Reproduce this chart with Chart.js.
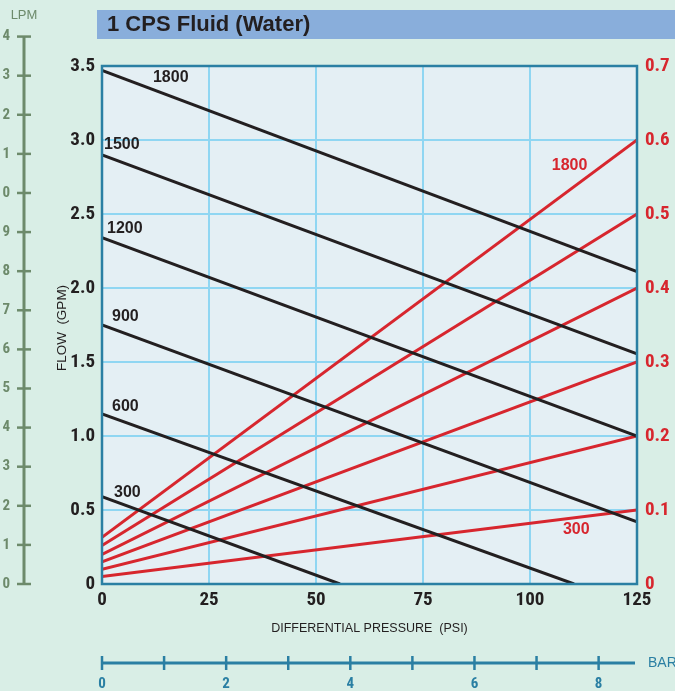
<!DOCTYPE html>
<html>
<head>
<meta charset="utf-8">
<title>1 CPS Fluid (Water)</title>
<script src="https://cdn.jsdelivr.net/npm/chart.js@4/dist/chart.umd.min.js"></script>
<style>
  html, body { margin: 0; padding: 0; background: #d9eee6; }
  canvas { display: block; }
</style>
</head>
<body>
<canvas id="pumpChart" width="675" height="691"></canvas>
<script>
'use strict';

// pump speeds (RPM), one black flow line and one red line per speed
const speeds = [300, 600, 900, 1200, 1500, 1800];

// black lines: flow (GPM) vs differential pressure (PSI)
const flowStartGpm = [0.59, 1.15, 1.75, 2.34, 2.90, 3.47];
const flowEndPsi = [55.6, 110.3, 125, 125, 125, 125];
const flowEndGpm = [0, 0, 0.42, 1.0, 1.555, 2.11];

// red lines: right hand scale, from 0 PSI to 125 PSI
const rightStart = [0.01, 0.02, 0.03, 0.04, 0.052, 0.063];
const rightEnd = [0.1, 0.2, 0.3, 0.4, 0.5, 0.6];

// tick values
const psiTicks = [0, 25, 50, 75, 100, 125];
const gpmTicks = [0, 0.5, 1.0, 1.5, 2.0, 2.5, 3.0, 3.5];
const rightTicks = [0, 0.1, 0.2, 0.3, 0.4, 0.5, 0.6, 0.7];
const lpmTicks = [0, 1, 2, 3, 4, 5, 6, 7, 8, 9, 10, 11, 12, 13, 14];
const barTicks = [0, 1, 2, 3, 4, 5, 6, 7, 8];
const barLabels = [0, 2, 4, 6, 8];

// line label anchors (left edge, middle), in chart units
const blackLabelPsi = [2.8, 2.34, 2.34, 1.17, 0.47, 11.9];
const blackLabelGpm = [0.615, 1.196, 1.804, 2.399, 2.966, 3.419];
const redLabelSpeeds = [1800, 300];
const redLabelPsi = [105.1, 107.7];
const redLabelRight = [0.565, 0.073];

const GPM_TO_LPM = 3.785;
const BAR_TO_PSI = 14.504;

const BLACK = '#231f20';
const RED = '#d7262e';
const GREEN = '#6d8a6b';
const TEAL = '#2a7fa3';
const GRID = '#8fd6f2';
const CONDENSED = "'Liberation Sans Narrow', 'Roboto Condensed', 'DejaVu Sans Condensed', sans-serif";
const SANS = "'Liberation Sans', Arial, sans-serif";

const datasets = [];
for (let i = 0; i < speeds.length; i++) {
    datasets.push({
        label: speeds[i] + ' flow',
        data: [{ x: 0, y: flowStartGpm[i] }, { x: flowEndPsi[i], y: flowEndGpm[i] }],
        borderColor: BLACK,
        borderWidth: 3,
        yAxisID: 'y'
    });
}
for (let i = 0; i < speeds.length; i++) {
    datasets.push({
        label: speeds[i] + ' right',
        data: [{ x: 0, y: rightStart[i] }, { x: 125, y: rightEnd[i] }],
        borderColor: RED,
        borderWidth: 3,
        yAxisID: 'y2'
    });
}

const decor = {
    id: 'decor',
    beforeDraw(chart) {
        const ctx = chart.ctx;
        const area = chart.chartArea;
        ctx.save();
        ctx.fillStyle = '#d9eee6';
        ctx.fillRect(0, 0, chart.width, chart.height);

        // title band
        ctx.fillStyle = '#89aedb';
        ctx.fillRect(97, 10, chart.width - 97, 29);
        ctx.fillStyle = BLACK;
        ctx.font = 'bold 22px ' + SANS;
        ctx.textBaseline = 'middle';
        ctx.textAlign = 'left';
        ctx.fillText('1 CPS Fluid (Water)', 107, 25);

        // plot background
        ctx.fillStyle = '#e4eff4';
        ctx.fillRect(area.left, area.top, area.right - area.left, area.bottom - area.top);
        ctx.restore();
    },
    afterDraw(chart) {
        const ctx = chart.ctx;
        const area = chart.chartArea;
        const xs = chart.scales.x;
        const ys = chart.scales.y;
        const ys2 = chart.scales.y2;
        ctx.save();

        // plot frame
        ctx.strokeStyle = TEAL;
        ctx.lineWidth = 2.5;
        ctx.strokeRect(area.left, area.top, area.right - area.left, area.bottom - area.top);

        // LPM scale on the far left
        const lpmX = 24;
        const lpmTop = ys.getPixelForValue(lpmTicks[lpmTicks.length - 1] / GPM_TO_LPM);
        const lpmBottom = ys.getPixelForValue(0);
        ctx.strokeStyle = GREEN;
        ctx.lineWidth = 3;
        ctx.beginPath();
        ctx.moveTo(lpmX, lpmTop);
        ctx.lineTo(lpmX, lpmBottom);
        ctx.stroke();
        ctx.lineWidth = 2.5;
        ctx.fillStyle = GREEN;
        ctx.font = 'bold 15px ' + CONDENSED;
        ctx.textAlign = 'right';
        ctx.textBaseline = 'middle';
        lpmTicks.forEach(v => {
            const py = ys.getPixelForValue(v / GPM_TO_LPM);
            ctx.beginPath();
            ctx.moveTo(lpmX - 7, py);
            ctx.lineTo(lpmX + 7, py);
            ctx.stroke();
            ctx.fillText(String(v), 10, py);
        });
        ctx.font = '13px ' + SANS;
        ctx.textAlign = 'center';
        ctx.fillText('LPM', lpmX, 15);

        // BAR scale along the bottom
        const barY = 663;
        ctx.strokeStyle = TEAL;
        ctx.fillStyle = TEAL;
        ctx.lineWidth = 3;
        ctx.beginPath();
        ctx.moveTo(xs.getPixelForValue(0), barY);
        ctx.lineTo(xs.getPixelForValue(125) - 2, barY);
        ctx.stroke();
        ctx.lineWidth = 2.5;
        barTicks.forEach(b => {
            const px = xs.getPixelForValue(b * BAR_TO_PSI);
            ctx.beginPath();
            ctx.moveTo(px, barY - 7);
            ctx.lineTo(px, barY + 7);
            ctx.stroke();
        });
        ctx.font = 'bold 15px ' + CONDENSED;
        ctx.textAlign = 'center';
        barLabels.forEach(b => {
            ctx.fillText(String(b), xs.getPixelForValue(b * BAR_TO_PSI), 684);
        });
        ctx.font = '14px ' + SANS;
        ctx.textAlign = 'left';
        ctx.fillText('BAR', 648, barY);

        // axis titles
        ctx.fillStyle = BLACK;
        ctx.font = '12.5px ' + SANS;
        ctx.textAlign = 'center';
        ctx.fillText('DIFFERENTIAL PRESSURE  (PSI)', (area.left + area.right) / 2, 629);
        ctx.save();
        ctx.translate(62, (area.top + area.bottom) / 2 + 3);
        ctx.rotate(-Math.PI / 2);
        ctx.font = '13.5px ' + SANS;
        ctx.fillText('FLOW  (GPM)', 0, 0);
        ctx.restore();

        // line labels
        ctx.font = 'bold 16px ' + SANS;
        ctx.textAlign = 'left';
        ctx.fillStyle = BLACK;
        for (let i = 0; i < speeds.length; i++) {
            ctx.fillText(String(speeds[i]), xs.getPixelForValue(blackLabelPsi[i]), ys.getPixelForValue(blackLabelGpm[i]));
        }
        ctx.fillStyle = RED;
        for (let i = 0; i < redLabelSpeeds.length; i++) {
            ctx.fillText(String(redLabelSpeeds[i]), xs.getPixelForValue(redLabelPsi[i]), ys2.getPixelForValue(redLabelRight[i]));
        }
        ctx.restore();
    }
};

function tickFont() {
    return { family: CONDENSED, weight: 'bold', size: 19 };
}

const ctx = document.getElementById('pumpChart').getContext('2d');
const chart = new Chart(ctx, {
    type: 'line',
    data: { datasets: datasets },
    options: {
        responsive: false,
        animation: false,
        devicePixelRatio: 1,
        layout: { padding: { left: 0, right: 0, top: 66, bottom: 67 } },
        elements: { point: { radius: 0 }, line: { tension: 0 } },
        plugins: { legend: { display: false }, tooltip: { enabled: false } },
        scales: {
            x: {
                type: 'linear',
                min: 0,
                max: 125,
                afterFit: s => { s.height = 40; },
                afterBuildTicks: s => { s.ticks = psiTicks.map(v => ({ value: v })); },
                grid: { color: GRID, lineWidth: 2, drawTicks: false },
                border: { display: false },
                ticks: { color: BLACK, font: tickFont(), padding: 5, maxRotation: 0 }
            },
            y: {
                position: 'left',
                min: 0,
                max: 3.5,
                afterFit: s => { s.width = 102; },
                afterBuildTicks: s => { s.ticks = gpmTicks.map(v => ({ value: v })); },
                grid: { color: GRID, lineWidth: 2, drawTicks: false },
                border: { display: false },
                ticks: {
                    color: BLACK,
                    font: tickFont(),
                    padding: 7,
                    callback: v => (v === 0 ? '0' : Number(v).toFixed(1))
                }
            },
            y2: {
                position: 'right',
                min: 0,
                max: 0.7,
                afterFit: s => { s.width = 38; },
                afterBuildTicks: s => { s.ticks = rightTicks.map(v => ({ value: v })); },
                grid: { display: false, drawTicks: false },
                border: { display: false },
                ticks: {
                    color: RED,
                    font: tickFont(),
                    padding: 8,
                    callback: v => (v === 0 ? '0' : Number(v).toFixed(1))
                }
            }
        }
    },
    plugins: [decor]
});
</script>
</body>
</html>
